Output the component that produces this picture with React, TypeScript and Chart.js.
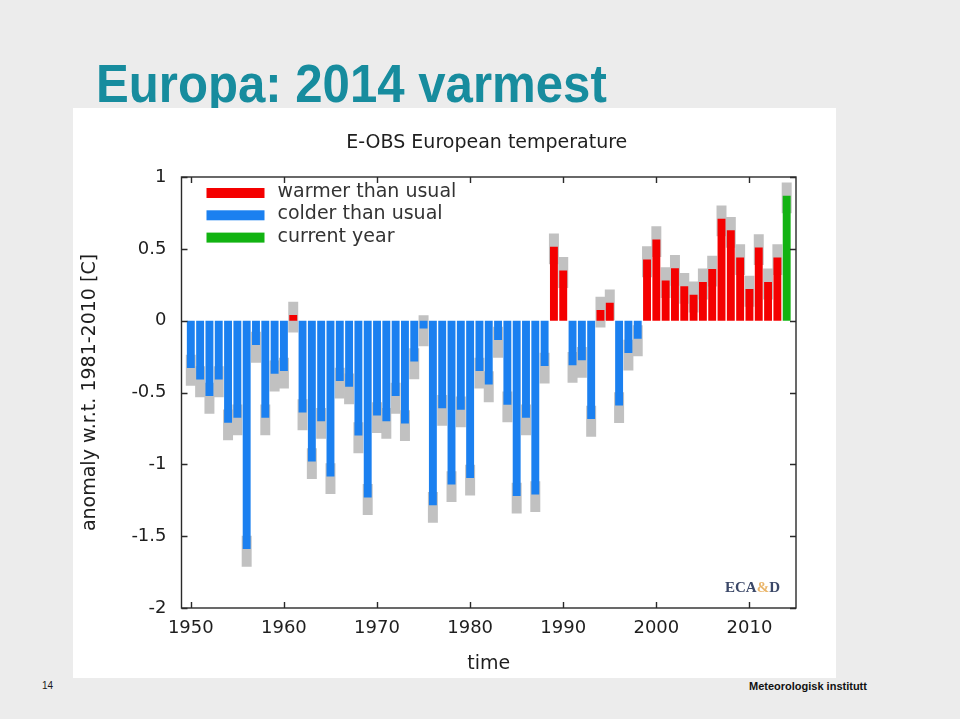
import React, { useEffect, useRef } from 'react';
import { Chart, registerables } from 'chart.js';

Chart.register(...registerables);

// ---- data ----
const YEARS: number[] = [
  1950, 1951, 1952, 1953, 1954, 1955, 1956, 1957, 1958, 1959,
  1960, 1961, 1962, 1963, 1964, 1965, 1966, 1967, 1968, 1969,
  1970, 1971, 1972, 1973, 1974, 1975, 1976, 1977, 1978, 1979,
  1980, 1981, 1982, 1983, 1984, 1985, 1986, 1987, 1988, 1989,
  1990, 1991, 1992, 1993, 1994, 1995, 1996, 1997, 1998, 1999,
  2000, 2001, 2002, 2003, 2004, 2005, 2006, 2007, 2008, 2009,
  2010, 2011, 2012, 2013, 2014,
];

const ANOMALY: number[] = [
  -0.33, -0.41, -0.525, -0.41, -0.71, -0.675, -1.59, -0.17, -0.675, -0.37,
  -0.35, 0.04, -0.64, -0.98, -0.7, -1.085, -0.42, -0.46, -0.8, -1.23,
  -0.66, -0.7, -0.525, -0.715, -0.285, -0.055, -1.285, -0.61, -1.14, -0.62,
  -1.095, -0.35, -0.445, -0.135, -0.585, -1.22, -0.675, -1.21, -0.315, 0.515,
  0.35, -0.31, -0.275, -0.685, 0.075, 0.125, -0.59, -0.225, -0.125, 0.425,
  0.565, 0.28, 0.365, 0.24, 0.18, 0.27, 0.36, 0.71, 0.63, 0.44,
  0.22, 0.51, 0.27, 0.44, 0.87,
];

const CURRENT_YEAR = 2014;
const UNC_BELOW = 0.12;
const UNC_ABOVE = 0.09;

const AXIS_FIRST_YEAR = 1949;
const AXIS_LAST_YEAR = 2015;
const X_TICK_YEARS: number[] = [1950, 1960, 1970, 1980, 1990, 2000, 2010];

const Y_MIN = -2;
const Y_MAX = 1;
const Y_STEP = 0.5;

const LEGEND_LABELS: string[] = ['warmer than usual', 'colder than usual', 'current year'];

const CHART_TITLE = 'E-OBS European temperature';
const Y_TITLE = 'anomaly w.r.t. 1981-2010 [C]';
const X_TITLE = 'time';

const WARM = '#f40000';
const COLD = '#1b80f0';
const CURRENT = '#12b312';
const BAND = '#c1c1c1';
const TEXT = '#1e1e1e';
const FONT = '"DejaVu Sans", sans-serif';

function App() {
  const ref = useRef<HTMLCanvasElement | null>(null);

  useEffect(() => {
    const canvas = ref.current;
    if (!canvas) return;

    const labels: string[] = [];
    for (let y = AXIS_FIRST_YEAR; y <= AXIS_LAST_YEAR; y++) labels.push(String(y));

    const valueFor = (lab: string) => {
      const i = YEARS.indexOf(Number(lab));
      return i >= 0 ? ANOMALY[i] : null;
    };

    const barData = labels.map((l) => {
      const v = valueFor(l);
      return v === null ? null : v;
    });
    const bandData = labels.map((l) => {
      const v = valueFor(l);
      return v === null ? null : [v - UNC_BELOW, v + UNC_ABOVE];
    });
    const barColors = labels.map((l) => {
      const v = valueFor(l);
      if (v === null) return 'rgba(0,0,0,0)';
      if (Number(l) === CURRENT_YEAR) return CURRENT;
      return v >= 0 ? WARM : COLD;
    });

    const decor = {
      id: 'decor',
      afterDraw(chart: any) {
        const { ctx, chartArea } = chart;
        const { left, right, top, bottom } = chartArea;
        const xs = chart.scales.x;
        const ys = chart.scales.y;
        ctx.save();
        // frame
        ctx.strokeStyle = '#2a2a2a';
        ctx.lineWidth = 1.4;
        ctx.strokeRect(left, top, right - left, bottom - top);
        // inward tick marks
        const tl = 6;
        ctx.beginPath();
        for (let v = Y_MIN; v <= Y_MAX + 1e-9; v += Y_STEP) {
          const py = Math.round(ys.getPixelForValue(v)) + 0.5;
          ctx.moveTo(left, py);
          ctx.lineTo(left + tl, py);
          ctx.moveTo(right, py);
          ctx.lineTo(right - tl, py);
        }
        X_TICK_YEARS.forEach((yr) => {
          const idx = labels.indexOf(String(yr));
          const px = Math.round(xs.getPixelForValue(idx)) + 0.5;
          ctx.moveTo(px, bottom);
          ctx.lineTo(px, bottom - tl);
          ctx.moveTo(px, top);
          ctx.lineTo(px, top + tl);
        });
        ctx.stroke();

        // chart title
        ctx.fillStyle = TEXT;
        ctx.font = `19px ${FONT}`;
        ctx.textAlign = 'center';
        ctx.textBaseline = 'middle';
        ctx.fillText(CHART_TITLE, (left + right) / 2 - 2, top - 34);

        // legend
        const legendColors = [WARM, COLD, CURRENT];
        ctx.textAlign = 'left';
        LEGEND_LABELS.forEach((lab, i) => {
          const cy = top + 16 + i * 22.3;
          ctx.fillStyle = legendColors[i];
          ctx.fillRect(left + 25, cy - 5, 58, 10);
          ctx.fillStyle = '#333';
          ctx.fillText(lab, left + 96, cy - 1);
        });

        // ECA&D logo
        ctx.font = `bold 15px "Liberation Serif", serif`;
        ctx.textBaseline = 'middle';
        let lx = right - 71;
        const ly = bottom - 20;
        const parts: [string, string][] = [['ECA', '#3b4868'], ['&', '#eab56a'], ['D', '#3b4868']];
        parts.forEach(([t, c]) => {
          ctx.fillStyle = c;
          ctx.fillText(t, lx, ly);
          lx += ctx.measureText(t).width;
        });
        ctx.restore();
      },
    };

    const chart = new Chart(canvas, {
      type: 'bar',
      data: {
        labels,
        datasets: [
          {
            label: 'anomaly',
            data: barData as any,
            backgroundColor: barColors,
            borderWidth: 0,
            barPercentage: 0.85,
            categoryPercentage: 1,
            grouped: false,
          } as any,
          {
            label: 'uncertainty',
            data: bandData as any,
            backgroundColor: BAND,
            borderWidth: 0,
            barPercentage: 1,
            categoryPercentage: 1,
            grouped: false,
          } as any,
        ],
      },
      options: {
        animation: false,
        responsive: false,
        maintainAspectRatio: false,
        layout: { padding: { left: 0, top: 69, right: 40, bottom: 0 } },
        plugins: {
          legend: { display: false },
          tooltip: { enabled: false },
          title: { display: false },
        },
        scales: {
          x: {
            type: 'category',
            offset: false,
            grid: { display: false, drawTicks: false },
            border: { display: false },
            ticks: {
              autoSkip: false,
              maxRotation: 0,
              minRotation: 0,
              padding: 10,
              color: TEXT,
              font: { family: FONT, size: 18 },
              callback: (_v: any, idx: number) => {
                const yr = Number(labels[idx]);
                return X_TICK_YEARS.includes(yr) ? String(yr) : '';
              },
            },
            title: {
              display: true,
              text: X_TITLE,
              color: TEXT,
              font: { family: FONT, size: 19 },
              padding: { top: 0, bottom: 3 },
            },
            afterFit: (s: any) => {
              s.height = 70;
            },
          },
          y: {
            min: Y_MIN,
            max: Y_MAX,
            grid: { display: false, drawTicks: false },
            border: { display: false },
            ticks: {
              stepSize: Y_STEP,
              padding: 15,
              color: TEXT,
              font: { family: FONT, size: 18 },
              callback: (v: any) => String(v),
            },
            title: {
              display: true,
              text: Y_TITLE,
              color: TEXT,
              font: { family: FONT, size: 19 },
              padding: { top: 6, bottom: 0 },
            },
            afterFit: (s: any) => {
              s.width = 108.5;
            },
          },
        },
      } as any,
      plugins: [decor],
    });

    return () => chart.destroy();
  }, []);

  return (
    <div
      style={{
        position: 'fixed',
        left: 0,
        top: 0,
        width: 960,
        height: 719,
        background: '#ececec',
        overflow: 'hidden',
      }}
    >
      <div
        style={{
          position: 'absolute',
          left: 96,
          top: 56,
          fontFamily: '"Liberation Sans", Arial, sans-serif',
          fontWeight: 'bold',
          fontSize: 54,
          lineHeight: '54px',
          color: '#178c9e',
          whiteSpace: 'nowrap',
          transform: 'scaleX(0.91)',
          transformOrigin: 'left top',
        }}
      >
        Europa: 2014 varmest
      </div>
      <div
        style={{
          position: 'absolute',
          left: 73,
          top: 108,
          width: 763,
          height: 570,
          background: '#ffffff',
        }}
      >
        <canvas ref={ref} width={763} height={570} style={{ display: 'block', width: 763, height: 570 }} />
      </div>
      <div
        style={{
          position: 'absolute',
          left: 42,
          top: 680,
          fontFamily: '"Liberation Sans", Arial, sans-serif',
          fontSize: 10,
          lineHeight: '12px',
          color: '#1a1a1a',
        }}
      >
        14
      </div>
      <div
        style={{
          position: 'absolute',
          left: 749,
          top: 680,
          fontFamily: '"Liberation Sans", Arial, sans-serif',
          fontWeight: 'bold',
          fontSize: 11,
          lineHeight: '12px',
          color: '#111',
          whiteSpace: 'nowrap',
        }}
      >
        Meteorologisk institutt
      </div>
    </div>
  );
}

export default App;
